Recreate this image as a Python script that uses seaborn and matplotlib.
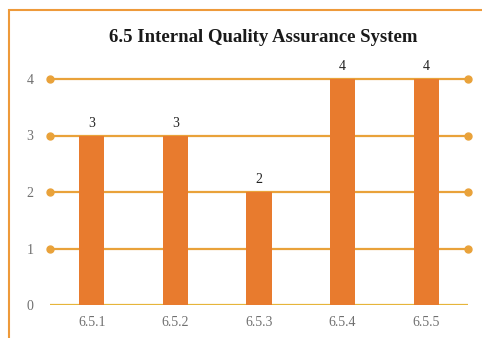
import matplotlib
matplotlib.use("Agg")
import matplotlib.pyplot as plt
import seaborn as sns
import pandas as pd
from matplotlib.patches import Rectangle

# Criteria scores for section 6.5
categories = ["6.5.1", "6.5.2", "6.5.3", "6.5.4", "6.5.5"]
scores = [3, 3, 2, 4, 4]
y_ticks = [0, 1, 2, 3, 4]
title = "6.5 Internal Quality Assurance System"

bar_color = "#E87B2E"
grid_color = "#E9A23A"
base_color = "#E6B53A"
frame_color = "#EE9A3A"
text_gray = "#707070"

sns.set_theme(style="white")
plt.rcParams["font.family"] = ["Liberation Serif", "DejaVu Serif"]

df = pd.DataFrame({"criterion": categories, "score": scores})

fig = plt.figure(figsize=(4.82, 3.38), dpi=100)
ax = fig.add_axes([50 / 482, 1 - 305 / 338, (468 - 50) / 482, (305 - 79) / 338])

# horizontal reference lines with round end caps
for t in y_ticks:
    if t == 0:
        ax.axhline(t, color=base_color, lw=1.6, zorder=1)
    else:
        ax.plot([-0.5, 4.5], [t, t], color=grid_color, lw=1.6, zorder=1,
                marker="o", markersize=5, markevery=[0, 1], clip_on=False)

sns.barplot(data=df, x="criterion", y="score", color=bar_color, width=0.3,
            saturation=1, linewidth=0, ax=ax, zorder=2)

for i, v in enumerate(scores):
    ax.text(i, v + 0.1, str(v), ha="center", va="bottom", fontsize=10, color="#222222")

ax.set_xlim(-0.5, 4.5)
ax.set_ylim(0, 4)
ax.set_yticks(y_ticks)
ax.set_yticklabels([str(t) for t in y_ticks])
ax.set_xlabel("")
ax.set_ylabel("")
ax.tick_params(axis="y", colors=text_gray, labelsize=10, length=0, pad=12)
ax.tick_params(axis="x", colors=text_gray, labelsize=10, length=0, pad=8)
for s in ax.spines.values():
    s.set_visible(False)
ax.patch.set_alpha(0)

fig.text(263 / 482, 1 - 38 / 338, title, ha="center", va="center",
         fontsize=13.5, fontweight="bold", color="#1a1a1a")

# outer frame around the chart
fig.patches.append(Rectangle((9 / 482, -0.05), 1.0, 1 - 10 / 338 + 0.05,
                             transform=fig.transFigure, fill=False,
                             edgecolor=frame_color, lw=1.5, zorder=0))

fig.savefig("out.png", dpi=100)
